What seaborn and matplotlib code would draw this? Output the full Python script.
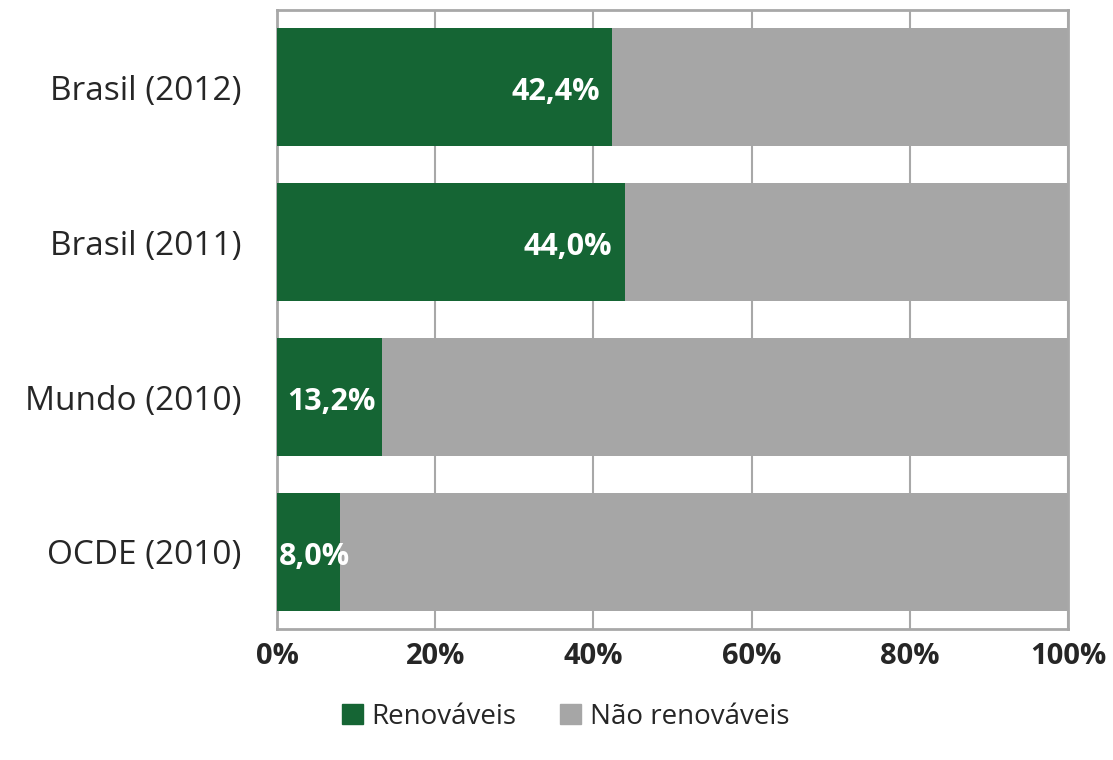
import matplotlib
matplotlib.use("Agg")
import matplotlib.pyplot as plt
import seaborn as sns
import pandas as pd
from matplotlib.patches import Patch

categories = ["Brasil (2012)", "Brasil (2011)", "Mundo (2010)", "OCDE (2010)"]
renovaveis = [42.4, 44.0, 13.2, 8.0]
nao_renovaveis = [100 - v for v in renovaveis]
value_labels = ["42,4%", "44,0%", "13,2%", "8,0%"]
x_ticks = [0, 20, 40, 60, 80, 100]
x_tick_labels = ["0%", "20%", "40%", "60%", "80%", "100%"]

green = "#156534"
gray = "#a6a6a6"

sns.set_style("white")
plt.rcParams["font.family"] = ["Open Sans", "DejaVu Sans"]

df = pd.DataFrame({"cat": categories, "ren": renovaveis, "nao": nao_renovaveis})
df["total"] = df["ren"] + df["nao"]

fig = plt.figure(figsize=(11.13, 7.6), dpi=100)
ax = fig.add_axes([0.249, 0.172, 0.7106, 0.815])

sns.barplot(data=df, y="cat", x="total", color=gray, orient="h", width=0.76,
            saturation=1, linewidth=0, ax=ax, zorder=2)
sns.barplot(data=df, y="cat", x="ren", color=green, orient="h", width=0.76,
            saturation=1, linewidth=0, ax=ax, zorder=3)

for i, (v, lab) in enumerate(zip(renovaveis, value_labels)):
    if v > 20:
        ax.text(v - 1.6, i + 0.03, lab, ha="right", va="center", color="white",
                fontsize=22, fontweight="bold", zorder=4)
    else:
        ax.text(0.2 if v < 10 else 1.3, i + 0.03, lab, ha="left", va="center",
                color="white", fontsize=22, fontweight="bold", zorder=4)

ax.set_xlim(0, 100)
ax.set_ylim(3.5, -0.5)
ax.set_xticks(x_ticks)
ax.set_xticklabels(x_tick_labels, fontsize=21, fontweight="bold")
ax.tick_params(axis="x", length=0, pad=9)
ax.tick_params(axis="y", length=0, pad=26, labelsize=24)
ax.xaxis.grid(True, color="#a8a8a8", linewidth=1.5, zorder=0)
ax.set_axisbelow(True)
ax.set_xlabel("")
ax.set_ylabel("")
for s in ax.spines.values():
    s.set_color("#a8a8a8")
    s.set_linewidth(2)

handles = [Patch(color=green, label="Renováveis"),
           Patch(color=gray, label="Não renováveis")]
fig.legend(handles=handles, loc="center", bbox_to_anchor=(0.508, 0.057), ncol=2,
           frameon=False, fontsize=20, handlelength=0.75, handleheight=0.75,
           handletextpad=0.3, columnspacing=1.6)

fig.savefig("out.png", dpi=100)
